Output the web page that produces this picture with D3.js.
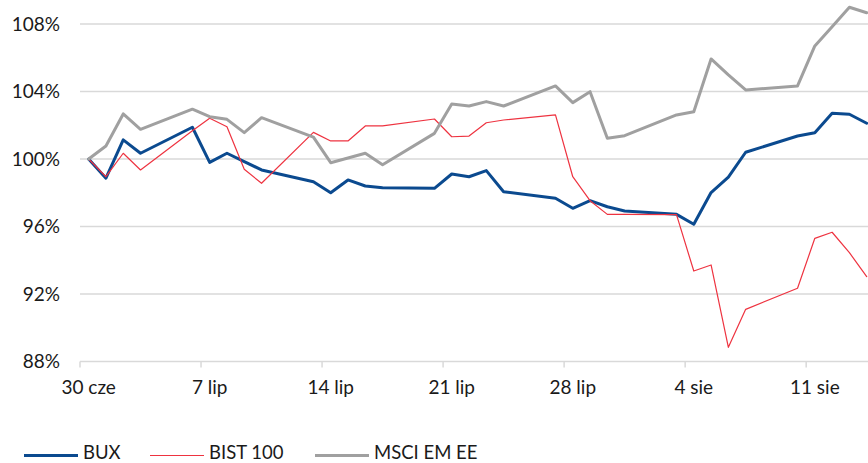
<!DOCTYPE html>
<html>
<head>
<meta charset="utf-8">
<script src="https://cdn.jsdelivr.net/npm/d3@7"></script>
<style>
  html, body { margin: 0; padding: 0; background: #fff; }
  svg { display: block; font-family: Lato, "Open Sans", sans-serif; }
</style>
</head>
<body>
<svg id="chart" width="868" height="463"></svg>
<script>
// Trading days (2020), indexed to 100 on 30 June
const dates = [
  "2020-06-30","2020-07-01","2020-07-02","2020-07-03",
  "2020-07-06","2020-07-07","2020-07-08","2020-07-09","2020-07-10",
  "2020-07-13","2020-07-14","2020-07-15","2020-07-16","2020-07-17",
  "2020-07-20","2020-07-21","2020-07-22","2020-07-23","2020-07-24",
  "2020-07-27","2020-07-28","2020-07-29","2020-07-30","2020-07-31",
  "2020-08-03","2020-08-04","2020-08-05","2020-08-06","2020-08-07",
  "2020-08-10","2020-08-11","2020-08-12","2020-08-13","2020-08-14"
];

const bux = [
  100.00, 98.86, 101.13, 100.34,
  101.88, 99.80, 100.34, 99.85, 99.35,
  98.65, 98.00, 98.76, 98.40, 98.30,
  98.26, 99.11, 98.95, 99.31, 98.06,
  97.67, 97.08, 97.53, 97.17, 96.92,
  96.72, 96.13, 98.01, 98.92, 100.40,
  101.36, 101.56, 102.71, 102.65, 102.12
];

const bist100 = [
  100.00, 98.95, 100.34, 99.35,
  101.67, 102.41, 101.91, 99.39, 98.56,
  101.58, 101.07, 101.07, 101.96, 101.96,
  102.37, 101.32, 101.36, 102.15, 102.31,
  102.61, 98.95, 97.53, 96.72, 96.72,
  96.70, 93.36, 93.72, 88.84, 91.09,
  92.34, 95.30, 95.66, 94.45, 93.03
];

const msciEmEe = [
  100.00, 100.77, 102.67, 101.76,
  102.95, 102.51, 102.35, 101.56, 102.45,
  101.30, 99.78, 100.06, 100.34, 99.66,
  101.52, 103.26, 103.14, 103.40, 103.14,
  104.33, 103.34, 103.99, 101.23, 101.38,
  102.61, 102.80, 105.93, 104.98, 104.09,
  104.33, 106.70, 107.84, 108.99, 108.67
];

const yTicks = [88, 92, 96, 100, 104, 108];
const xTickDates = ["2020-06-30","2020-07-07","2020-07-14","2020-07-21","2020-07-28","2020-08-04","2020-08-11"];
const xTickLabels = ["30 cze","7 lip","14 lip","21 lip","28 lip","4 sie","11 sie"];

const seriesNames = ["BUX", "BIST 100", "MSCI EM EE"];
const seriesValues = [bux, bist100, msciEmEe];
const seriesColors = ["#0b4a8f", "#ee3340", "#a0a0a0"];
const seriesWidths = [3, 1.2, 3];

const W = 868, H = 463;
const left = 80;
const dayPx = 17.29;
const DAY = 864e5;
const parse = s => new Date(s + "T00:00:00Z");

const start = parse("2020-06-30");
const end = new Date(+start + 46 * DAY);

const x = d3.scaleUtc().domain([start, end]).range([left, left + 46 * dayPx]);
const y = d3.scaleLinear().domain([88, 108]).range([361.5, 24]);

const svg = d3.select("#chart");

// horizontal gridlines (the lowest one doubles as the category axis)
svg.append("g")
  .selectAll("line")
  .data(yTicks)
  .join("line")
  .attr("x1", left).attr("x2", W)
  .attr("y1", d => y(d)).attr("y2", d => y(d))
  .attr("stroke", "#d9d9d9")
  .attr("stroke-width", 1.5);

// y labels
svg.append("g")
  .selectAll("text")
  .data(yTicks)
  .join("text")
  .attr("x", 60)
  .attr("y", d => y(d))
  .attr("dy", "0.35em")
  .attr("text-anchor", "end")
  .attr("font-size", 19)
  .attr("fill", "#1a1a1a")
  .text(d => d + "%");

// x ticks on day boundaries, labels centred on the day
const xt = svg.append("g");
xt.selectAll("line")
  .data(xTickDates)
  .join("line")
  .attr("x1", d => x(parse(d))).attr("x2", d => x(parse(d)))
  .attr("y1", y(88)).attr("y2", y(88) + 6)
  .attr("stroke", "#d9d9d9")
  .attr("stroke-width", 1.5);
xt.selectAll("text")
  .data(xTickDates)
  .join("text")
  .attr("x", d => x(new Date(+parse(d) + DAY / 2)))
  .attr("y", 387)
  .attr("dy", "0.35em")
  .attr("text-anchor", "middle")
  .attr("font-size", 19)
  .attr("fill", "#1a1a1a")
  .text((d, i) => xTickLabels[i]);

// series lines
const line = d3.line()
  .x((d, i) => x(new Date(+parse(dates[i]) + DAY / 2)))
  .y(d => y(d));

svg.append("g")
  .selectAll("path")
  .data(seriesValues)
  .join("path")
  .attr("fill", "none")
  .attr("stroke", (d, i) => seriesColors[i])
  .attr("stroke-width", (d, i) => seriesWidths[i])
  .attr("stroke-linejoin", "round")
  .attr("stroke-linecap", "round")
  .attr("d", line);

// legend
const legendX = [24, 150, 315];
const lg = svg.append("g")
  .selectAll("g")
  .data(seriesNames)
  .join("g")
  .attr("transform", (d, i) => `translate(${legendX[i]},455.5)`);
lg.append("line")
  .attr("x1", 0).attr("x2", 54)
  .attr("stroke", (d, i) => seriesColors[i])
  .attr("stroke-width", (d, i) => seriesWidths[i]);
lg.append("text")
  .attr("x", 59)
  .attr("y", 3.5)
  .attr("font-size", 18.5)
  .attr("fill", "#1a1a1a")
  .text(d => d);
</script>
</body>
</html>
